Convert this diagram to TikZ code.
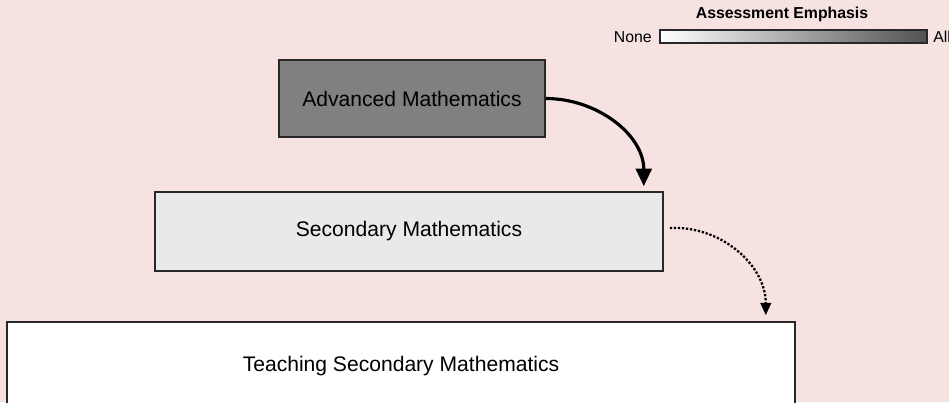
\documentclass[tikz,border=0pt]{standalone}
\usepackage{fontspec}
\setmainfont{Liberation Sans}
\usetikzlibrary{positioning,arrows.meta,calc}
\definecolor{bgpink}{RGB}{245,226,225}
\definecolor{advgray}{RGB}{128,128,128}
\definecolor{secgray}{RGB}{233,233,233}
\definecolor{edgegray}{RGB}{40,40,40}
\tikzset{
  level/.style  = {draw=edgegray, line width=0.9pt, align=center, font=\fontsize{12}{14}\selectfont},
  legend/.style = {font=\fontsize{9}{11}\selectfont, inner sep=0pt},
  arrow/.style  = {-{Triangle[length=10pt,width=9pt]}, line width=1.8pt},
  weak/.style   = {-{Triangle[length=7pt,width=6pt]}, line width=1.3pt, densely dotted},
}
\begin{document}
\begin{tikzpicture}
  \fill[bgpink] (0,0) rectangle (18.98,-8.04);
  \useasboundingbox (0,0) rectangle (18.98,-8.04);
  % levels of mathematics
  \node[level, fill=advgray, minimum width=5.32cm, minimum height=1.54cm] (adv) at (8.24,-1.97) {Advanced Mathematics};
  \node[level, fill=secgray, minimum width=10.16cm, minimum height=1.58cm] (sec) at (8.18,-4.63) {Secondary Mathematics};
  \begin{scope}
    \clip (0,0) rectangle (18.98,-8.04);
    \node[level, fill=white, minimum width=15.76cm, minimum height=1.76cm] (tsm) at (8.02,-7.32) {Teaching Secondary Mathematics};
  \end{scope}
  \coordinate (secin) at ([xshift=-0.4cm, yshift=0.1cm]sec.north east);
  \coordinate (tsmin) at ([xshift=-0.6cm, yshift=0.12cm]tsm.north east);
  \draw[arrow] (adv.east) to[out=0, in=90] (secin);
  \draw[weak] ([xshift=0.12cm, yshift=0.07cm]sec.east) to[out=3, in=90] (tsmin);
  % legend
  \shade[left color=white, right color=black!68, draw=edgegray, line width=0.8pt] (13.2,-0.6) rectangle (18.54,-0.86);
  \node[legend, font=\fontsize{9}{11}\selectfont\bfseries] (title) at (15.64,-0.28) {Assessment Emphasis};
  \node[legend, anchor=east] (none) at (13.04,-0.74) {None};
  \node[legend, anchor=west] (all) at (18.66,-0.74) {All};
\end{tikzpicture}
\end{document}
